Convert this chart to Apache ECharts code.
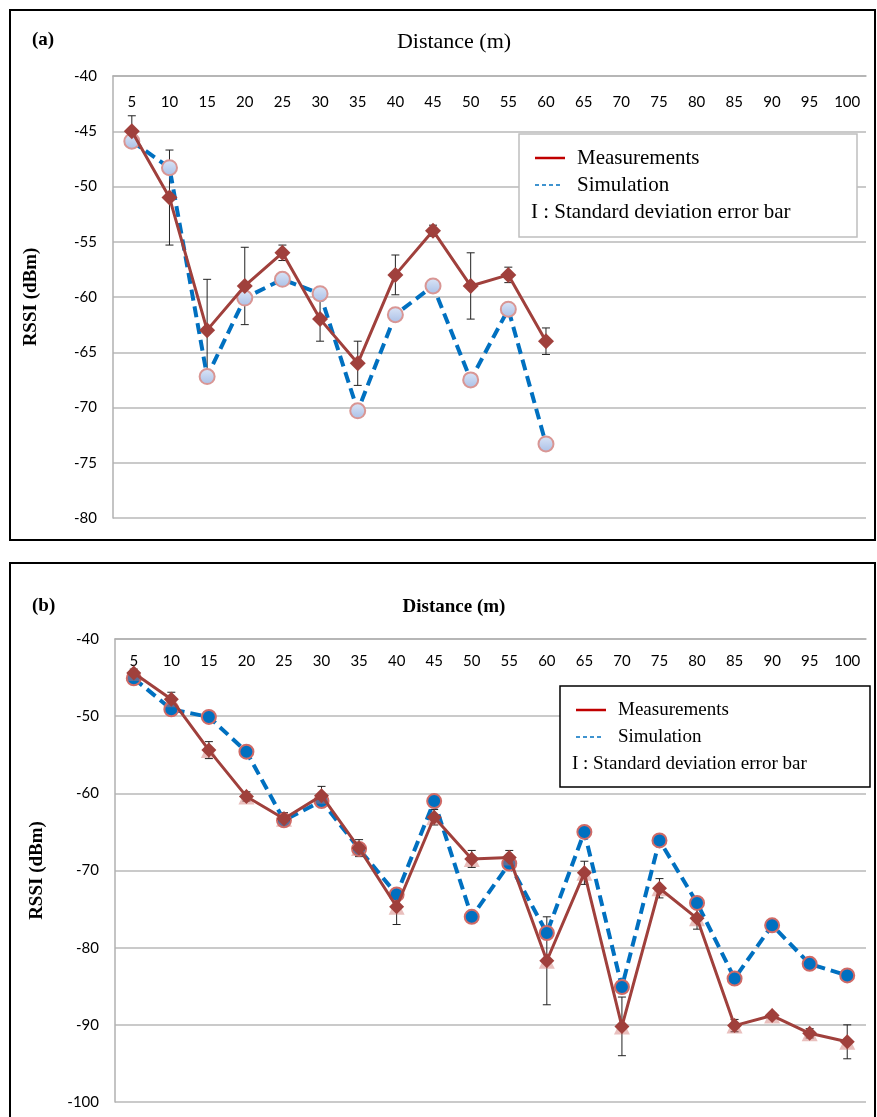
<!DOCTYPE html>
<html>
<head>
<meta charset="utf-8">
<script src="https://cdn.jsdelivr.net/npm/echarts@6/dist/echarts.min.js"></script>
<style>
html, body { margin: 0; padding: 0; background: #fff; }
#chart { width: 877px; height: 1117px; }
</style>
</head>
<body>
<div id="chart"></div>
<script>
// distance categories (m)
const distances = ['5', '10', '15', '20', '25', '30', '35', '40', '45', '50',
  '55', '60', '65', '70', '75', '80', '85', '90', '95', '100']

// panel (a)
const measA = [-45.0, -51.0, -63.0, -59.0, -56.0, -62.0, -66.0, -58.0, -54.0, -59.0, -58.0, -64.0]
const stdA = [1.4, 4.3, 4.6, 3.5, 0.7, 2.0, 2.0, 1.8, 0.5, 3.0, 0.7, 1.2]
const simA = [-45.9, -48.3, -67.2, -60.1, -58.4, -59.7, -70.3, -61.6, -59.0, -67.5, -61.1, -73.3]

// panel (b)
const measB = [-44.4, -47.8, -54.4, -60.4, -63.3, -60.3, -67.1, -74.7, -63.1, -68.5,
  -68.3, -81.7, -70.3, -90.2, -72.3, -76.2, -90.1, -88.8, -91.1, -92.2]
const stdB = [0.5, 0.9, 1.1, 0.6, 0.8, 1.2, 1.1, 2.3, 1.0, 1.1,
  0.9, 5.7, 1.5, 3.8, 1.25, 1.4, 0.8, 0.4, 0.6, 2.2]
const simB = [-45.1, -49.1, -50.1, -54.6, -63.5, -61.0, -67.2, -73.1, -61.0, -76.0,
  -69.1, -78.1, -65.0, -85.1, -66.1, -74.2, -84.0, -77.1, -82.1, -83.6]

const serif = 'Liberation Serif'
const sans = 'Lato'
const measColor = '#a0403c'
const simColor = '#0070c0'

function errorBars(idx, mean, std) {
  return {
    type: 'custom',
    xAxisIndex: idx,
    yAxisIndex: idx,
    z: 1,
    silent: true,
    data: mean.map((v, i) => [i, v - std[i], v + std[i]]),
    renderItem(params, api) {
      const lo = api.coord([api.value(0), api.value(1)])
      const hi = api.coord([api.value(0), api.value(2)])
      const w = 4
      const st = { stroke: '#222', lineWidth: 1 }
      return {
        type: 'group',
        children: [
          { type: 'line', shape: { x1: lo[0], y1: lo[1], x2: hi[0], y2: hi[1] }, style: st },
          { type: 'line', shape: { x1: lo[0] - w, y1: lo[1], x2: lo[0] + w, y2: lo[1] }, style: st },
          { type: 'line', shape: { x1: hi[0] - w, y1: hi[1], x2: hi[0] + w, y2: hi[1] }, style: st }
        ]
      }
    }
  }
}

function xAxisCfg(idx, margin) {
  return {
    type: 'category',
    gridIndex: idx,
    position: 'top',
    data: distances,
    axisLine: { show: true, lineStyle: { color: '#b0b0b0', width: 1.5 } },
    axisTick: { show: false },
    axisLabel: { inside: true, margin: margin, color: '#000', fontFamily: sans, fontSize: 15 }
  }
}

function yAxisCfg(idx, min, max, interval, gap) {
  return {
    type: 'value',
    gridIndex: idx,
    min: min,
    max: max,
    interval: interval,
    name: 'RSSI (dBm)',
    nameLocation: 'middle',
    nameGap: gap,
    nameTextStyle: { fontFamily: serif, fontWeight: 'bold', fontSize: 19, color: '#000' },
    axisLine: { show: true, lineStyle: { color: '#b0b0b0', width: 1.5 } },
    axisTick: { show: false },
    axisLabel: { color: '#000', fontFamily: sans, fontSize: 15, margin: 16 },
    splitLine: { lineStyle: { color: '#b8b8b8', width: 1.5 } }
  }
}

// legend drawn as plain graphics, absolute coordinates
function legendBox(x, y, w, h, stroke, fs) {
  const font = fs + 'px "' + serif + '"'
  return [
    { type: 'rect', z: 50, shape: { x: x, y: y, width: w, height: h },
      style: { fill: '#fff', stroke: stroke, lineWidth: 1.5 } },
    { type: 'line', z: 51, shape: { x1: x + 16, y1: y + 24, x2: x + 46, y2: y + 24 },
      style: { stroke: '#c00000', lineWidth: 2.5 } },
    { type: 'text', z: 51, x: x + 58, y: y + 24,
      style: { text: 'Measurements', font: font, fill: '#000', verticalAlign: 'middle' } },
    { type: 'line', z: 51, shape: { x1: x + 16, y1: y + 51, x2: x + 44, y2: y + 51 },
      style: { stroke: simColor, lineWidth: 1.5, lineDash: [4, 3] } },
    { type: 'text', z: 51, x: x + 58, y: y + 51,
      style: { text: 'Simulation', font: font, fill: '#000', verticalAlign: 'middle' } },
    { type: 'text', z: 51, x: x + 12, y: y + 78,
      style: { text: 'I : Standard deviation error bar', font: font, fill: '#000', verticalAlign: 'middle' } }
  ]
}

const chart = echarts.init(document.getElementById('chart'))
chart.setOption({
  animation: false,
  backgroundColor: '#fff',
  title: [
    { text: 'Distance (m)', left: 449, top: 26, textAlign: 'center',
      textStyle: { fontFamily: serif, fontWeight: 'normal', fontSize: 22, color: '#000' } },
    { text: '(a)', left: 27, top: 26,
      textStyle: { fontFamily: serif, fontWeight: 'bold', fontSize: 19, color: '#000' } },
    { text: 'Distance (m)', left: 449, top: 593, textAlign: 'center',
      textStyle: { fontFamily: serif, fontWeight: 'bold', fontSize: 19, color: '#000' } },
    { text: '(b)', left: 27, top: 592,
      textStyle: { fontFamily: serif, fontWeight: 'bold', fontSize: 19, color: '#000' } }
  ],
  grid: [
    { left: 113, top: 76, right: 11, height: 442 },
    { left: 115, top: 639, right: 11, height: 463 }
  ],
  xAxis: [xAxisCfg(0, 19), xAxisCfg(1, 15)],
  yAxis: [yAxisCfg(0, -80, -40, 5, 72), yAxisCfg(1, -100, -40, 10, 68)],
  graphic: [
    { type: 'rect', z: 100, shape: { x: 10, y: 10, width: 865, height: 530 },
      style: { fill: 'none', stroke: '#000', lineWidth: 2 } },
    { type: 'rect', z: 100, shape: { x: 10, y: 563, width: 865, height: 560 },
      style: { fill: 'none', stroke: '#000', lineWidth: 2 } }
  ].concat(legendBox(519, 134, 338, 103, '#bfbfbf', 21), legendBox(560, 686, 310, 101, '#000', 19)),
  series: [
    errorBars(0, measA, stdA),
    {
      name: 'Simulation', type: 'line', xAxisIndex: 0, yAxisIndex: 0, data: simA, z: 2,
      symbol: 'circle', symbolSize: 15,
      lineStyle: { color: simColor, width: 4, type: [11, 6] },
      itemStyle: {
        color: new echarts.graphic.LinearGradient(0, 0, 0, 1, [
          { offset: 0, color: '#dce6f7' }, { offset: 1, color: '#a9bfe6' }
        ]),
        borderColor: '#d99694', borderWidth: 2
      }
    },
    {
      name: 'Measurements', type: 'line', xAxisIndex: 0, yAxisIndex: 0, data: measA, z: 3,
      symbol: 'diamond', symbolSize: 16,
      lineStyle: { color: measColor, width: 3 },
      itemStyle: { color: measColor }
    },
    errorBars(1, measB, stdB),
    {
      name: 'Simulation', type: 'line', xAxisIndex: 1, yAxisIndex: 1, data: simB, z: 2,
      symbol: 'circle', symbolSize: 14,
      lineStyle: { color: simColor, width: 4, type: [11, 6] },
      itemStyle: { color: simColor, borderColor: '#d06a66', borderWidth: 2 }
    },
    {
      type: 'scatter', xAxisIndex: 1, yAxisIndex: 1, data: measB, z: 2, silent: true,
      symbol: 'triangle', symbolSize: 16,
      itemStyle: { color: 'rgba(205,110,105,0.55)' }
    },
    {
      name: 'Measurements', type: 'line', xAxisIndex: 1, yAxisIndex: 1, data: measB, z: 3,
      symbol: 'diamond', symbolSize: 15,
      lineStyle: { color: measColor, width: 3 },
      itemStyle: { color: measColor }
    }
  ]
})
</script>
</body>
</html>
